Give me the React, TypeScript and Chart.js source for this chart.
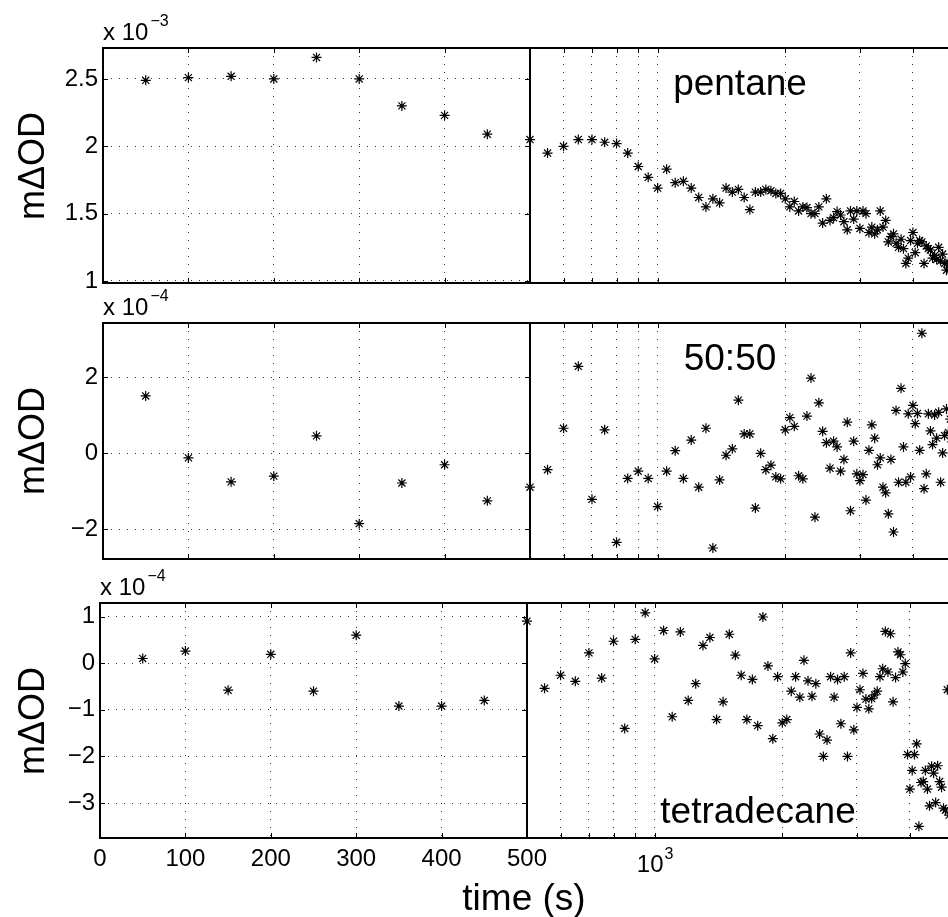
import React, { useEffect, useRef } from 'react';
import { Chart, registerables } from 'chart.js';

Chart.register(...registerables);

// ---------------- data ----------------
const times = [
  50, 100, 150, 200, 250, 300, 350, 400, 450, 500,
  550, 600, 650, 700, 750, 800, 850, 900, 950, 1000,
  1050, 1100, 1150, 1200, 1250, 1300, 1350, 1400, 1450, 1500,
  1550, 1600, 1650, 1700, 1750, 1800, 1850, 1900, 1950, 2000,
  2050, 2100, 2150, 2200, 2250, 2300, 2350, 2400, 2450, 2500,
  2550, 2600, 2650, 2700, 2750, 2800, 2850, 2900, 2950, 3000,
  3050, 3100, 3150, 3200, 3250, 3300, 3350, 3400, 3450, 3500,
  3550, 3600, 3650, 3700, 3750, 3800, 3850, 3900, 3950, 4000,
  4050, 4100, 4150, 4200, 4250, 4300, 4350, 4400, 4450, 4500,
  4550, 4600, 4650, 4700, 4750, 4800, 4850, 4900, 4950,
];

// pentane, in units of 1e-3
const pentane = [
  2.49, 2.51, 2.52, 2.50, 2.66, 2.50, 2.30, 2.23, 2.09, 2.05,
  1.95, 2.00, 2.05, 2.05, 2.03, 2.02, 1.95, 1.85, 1.77, 1.69,
  1.83, 1.73, 1.74, 1.69, 1.62, 1.55, 1.61, 1.58, 1.69, 1.66,
  1.68, 1.62, 1.53, 1.66, 1.66, 1.68, 1.67, 1.65, 1.65, 1.61,
  1.55, 1.59, 1.52, 1.55, 1.545, 1.50, 1.50, 1.55, 1.43, 1.61,
  1.45, 1.47, 1.515, 1.49, 1.44, 1.38, 1.52, 1.46, 1.52, 1.39,
  1.52, 1.50, 1.36, 1.40, 1.35, 1.38, 1.52, 1.40, 1.45, 1.29,
  1.33, 1.35, 1.28, 1.25, 1.31, 1.24, 1.13, 1.17, 1.30, 1.36,
  1.21, 1.28, 1.30, 1.29, 1.13, 1.26, 1.24, 1.23, 1.17, 1.19,
  1.16, 1.25, 1.15, 1.20, 1.13, 1.08, 1.14, 1.10, 1.06,
];

// 50:50 mixture, in units of 1e-4
const mixture = [
  1.51, -0.12, -0.75, -0.60, 0.46, -1.85, -0.78, -0.30, -1.25, -0.89,
  -0.43, 0.66, 2.29, -1.21, 0.62, -2.34, -0.66, -0.47, -0.66, -1.40,
  -0.47, 0.07, -0.66, 0.35, -0.89, 0.66, -2.49, -0.70, -0.05, 0.12,
  1.40, 0.51, 0.51, -1.44, 0.00, -0.43, -0.31, -0.62, -0.67, 0.62,
  0.94, 0.71, -0.59, -0.67, 0.98, 1.98, -1.68, 1.33, 0.58, 0.28,
  -0.39, 0.32, 0.17, -0.47, -0.16, 0.82, -1.51, 0.32, -0.54, -0.72,
  -0.56, -1.23, 0.08, 0.75, 0.40, -0.30, -0.12, -0.89, -1.04, -1.59,
  -0.16, -2.07, 1.13, -0.76, 1.71, 0.17, -0.76, 1.04, -0.62, 1.26,
  0.78, 1.05, 0.08, 3.16, -0.93, -0.54, 1.04, 0.59, 0.23, 1.01,
  0.40, 1.08, -0.76, 0.01, 0.47, 1.17, 0.55, 0.90, 0.30,
];

// tetradecane, in units of 1e-4
const tetradecane = [
  0.10, 0.26, -0.58, 0.19, -0.60, 0.60, -0.92, -0.92, -0.80, 0.90,
  -0.54, -0.26, -0.39, 0.22, -0.32, 0.47, -1.40, 0.51, 1.08, 0.09,
  0.70, -1.15, 0.67, -0.80, -0.44, 0.38, 0.55, -1.21, -0.83, 0.62,
  0.17, -0.26, -1.21, -0.35, -1.34, 0.99, -0.06, -1.62, -0.29, -1.28,
  -1.21, -0.60, -0.29, -0.73, 0.06, -0.38, -0.71, -0.44, -1.52, -2.00,
  -1.65, -0.29, -0.73, -0.35, -1.30, -0.29, -2.00, 0.22, -1.43, -0.95,
  -0.57, -0.22, -0.77, -0.98, -0.76, -0.68, -0.60, -0.29, -0.12, 0.68,
  -0.19, 0.63, -0.83, -0.31, 0.24, 0.18, -0.19, -0.01, -1.96, -2.70,
  -2.30, -1.96, -1.73, -3.50, -2.56, -2.54, -2.30, -2.70, -3.06, -2.21,
  -2.36, -2.99, -2.20, -2.54, -2.66, -3.11, -3.15, -0.57, -3.26,
];

const linearXTicks = [0, 100, 200, 300, 400, 500];
const logXTicks = [500, 600, 700, 800, 900, 1000, 2000, 3000, 4000, 5000];
// power-of-ten tick labels on the log axis: base and superscript exponent
const logXLabelBase: Record<number, string> = { 1000: '10' };
const logXLabelExp: Record<number, string> = { 1000: '3' };
const pentaneYTicks = [1, 1.5, 2, 2.5];
const mixtureYTicks = [-2, 0, 2];
const tetradecaneYTicks = [-3, -2, -1, 0, 1];

const seriesNames = ['pentane', '50:50', 'tetradecane'];
const exponents = ['−3', '−4', '−4'];
const yLabel = 'mΔOD';
const xLabel = 'time (s)';

// ---------------- layout / style ----------------
const FONT = '"Liberation Sans", Arial, Helvetica, sans-serif';
const GRID_COLOR = '#333333';
const TICK_SIZE = 24;
const TICK_FONT = { family: FONT, size: TICK_SIZE };

type Row = {
  values: number[];
  yMin: number;
  yMax: number;
  yTicks: number[];
  top: number;
  bottom: number;
  x0: number;
  xb: number;
  showX: boolean;
  titleX: number;
  titleBaseline: number;
};

const ROWS: Row[] = [
  { values: pentane, yMin: 0.985, yMax: 2.73, yTicks: pentaneYTicks, top: 48, bottom: 283, x0: 103, xb: 530, showX: false, titleX: 740, titleBaseline: 95.5 },
  { values: mixture, yMin: -2.78, yMax: 3.43, yTicks: mixtureYTicks, top: 323, bottom: 559, x0: 103, xb: 530, showX: false, titleX: 730, titleBaseline: 370 },
  { values: tetradecane, yMin: -3.75, yMax: 1.29, yTicks: tetradecaneYTicks, top: 603, bottom: 838, x0: 100, xb: 527, showX: true, titleX: 758, titleBaseline: 823 },
];

const DECADE = 424;
const PAD_TOP = 12;
const X_AXIS_H = 44;
const PAD_BOTTOM = 4;
const LEFT_CANVAS_W = 570;
const RIGHT_CANVAS_END = 962;

const framePlugin = {
  id: 'frame',
  afterDraw(chart: any, _args: any, opts: any) {
    const { ctx, chartArea: a, scales } = chart;
    ctx.save();
    ctx.strokeStyle = '#000';
    ctx.lineWidth = 1;
    ctx.beginPath();
    const xs = scales.x;
    xs.ticks.forEach((t: any) => {
      const px = Math.round(xs.getPixelForValue(t.value)) + 0.5;
      ctx.moveTo(px, a.bottom);
      ctx.lineTo(px, a.bottom - 5);
      ctx.moveTo(px, a.top);
      ctx.lineTo(px, a.top + 5);
    });
    if (opts && opts.yTicks) {
      const ys = scales.y;
      ys.ticks.forEach((t: any) => {
        const py = Math.round(ys.getPixelForValue(t.value)) + 0.5;
        ctx.moveTo(a.left, py);
        ctx.lineTo(a.left + 5, py);
        ctx.moveTo(a.right, py);
        ctx.lineTo(a.right - 5, py);
      });
    }
    ctx.stroke();
    ctx.lineWidth = 2;
    ctx.strokeRect(a.left, a.top, a.right - a.left, a.bottom - a.top);

    // power-of-ten labels (base + raised exponent) at their tick positions
    if (opts && opts.powerLabels) {
      ctx.fillStyle = '#000';
      ctx.textBaseline = 'alphabetic';
      ctx.textAlign = 'left';
      xs.ticks.forEach((t: any) => {
        const base = logXLabelBase[t.value];
        const exp = logXLabelExp[t.value];
        if (!base) return;
        const px = xs.getPixelForValue(t.value);
        ctx.font = `${TICK_SIZE}px ${FONT}`;
        const wb = ctx.measureText(base).width;
        ctx.font = `16px ${FONT}`;
        const we = ctx.measureText(exp).width;
        const x0 = px - (wb + we) / 2;
        const baseY = a.bottom + 34;
        ctx.font = `${TICK_SIZE}px ${FONT}`;
        ctx.fillText(base, x0, baseY);
        ctx.font = `16px ${FONT}`;
        ctx.fillText(exp, x0 + wb + 1, baseY - 13);
      });
    }
    ctx.restore();
  },
};

function dataset(points: { x: number; y: number }[]) {
  return {
    data: points,
    pointStyle: 'star' as const,
    pointRadius: 5,
    pointHoverRadius: 5,
    borderColor: '#000',
    backgroundColor: '#000',
    pointBorderWidth: 1.2,
    borderWidth: 1.2,
    showLine: false,
    clip: 0,
  };
}

function xAxisFit(s: any) {
  s.height = X_AXIS_H;
  s.paddingLeft = 0;
  s.paddingRight = 0;
}

function makeLeft(canvas: HTMLCanvasElement, row: Row) {
  const pts = times
    .map((t, i) => ({ x: t, y: row.values[i] }))
    .filter((p) => p.x <= 500);
  return new Chart(canvas, {
    type: 'scatter',
    data: { datasets: [dataset(pts)] },
    options: {
      animation: false,
      responsive: false,
      devicePixelRatio: 1,
      events: [],
      layout: { padding: { left: 0, top: PAD_TOP, right: LEFT_CANVAS_W - row.xb, bottom: PAD_BOTTOM } },
      plugins: { legend: { display: false }, tooltip: { enabled: false }, frame: { yTicks: true } } as any,
      scales: {
        x: {
          type: 'linear',
          position: 'bottom',
          min: 0,
          max: 500,
          bounds: 'data',
          afterBuildTicks: (s: any) => {
            s.ticks = linearXTicks.map((v) => ({ value: v }));
          },
          afterFit: xAxisFit,
          grid: { color: GRID_COLOR, lineWidth: 1, drawTicks: false },
          border: { display: false, dash: [1, 7] },
          ticks: {
            display: row.showX,
            autoSkip: false,
            maxRotation: 0,
            minRotation: 0,
            padding: 7,
            color: '#000',
            font: TICK_FONT,
            callback: (v: any) => String(v),
          },
        },
        y: {
          type: 'linear',
          min: row.yMin,
          max: row.yMax,
          bounds: 'data',
          afterBuildTicks: (s: any) => {
            s.ticks = row.yTicks.map((v) => ({ value: v }));
          },
          afterFit: (s: any) => {
            s.width = row.x0;
            s.paddingTop = 0;
            s.paddingBottom = 0;
          },
          grid: { color: GRID_COLOR, lineWidth: 1, drawTicks: false },
          border: { display: false, dash: [1, 7] },
          ticks: {
            autoSkip: false,
            padding: 5,
            color: '#000',
            font: TICK_FONT,
            callback: (v: any) => String(v).replace('-', '−'),
          },
        },
      },
    } as any,
    plugins: [framePlugin],
  });
}

function makeRight(canvas: HTMLCanvasElement, row: Row, canvasLeft: number) {
  const pts = times
    .map((t, i) => ({ x: t, y: row.values[i] }))
    .filter((p) => p.x >= 500);
  const rightEdge = row.xb + DECADE;
  return new Chart(canvas, {
    type: 'scatter',
    data: { datasets: [dataset(pts)] },
    options: {
      animation: false,
      responsive: false,
      devicePixelRatio: 1,
      events: [],
      layout: {
        padding: { left: row.xb - canvasLeft, top: PAD_TOP, right: RIGHT_CANVAS_END - rightEdge, bottom: PAD_BOTTOM },
      },
      plugins: {
        legend: { display: false },
        tooltip: { enabled: false },
        frame: { yTicks: false, powerLabels: row.showX },
      } as any,
      scales: {
        x: {
          type: 'logarithmic',
          position: 'bottom',
          min: 500,
          max: 5000,
          bounds: 'data',
          afterBuildTicks: (s: any) => {
            s.ticks = logXTicks.map((v) => ({ value: v }));
          },
          afterFit: xAxisFit,
          grid: { color: GRID_COLOR, lineWidth: 1, drawTicks: false },
          border: { display: false, dash: [1, 7] },
          ticks: { display: false },
        },
        y: {
          type: 'linear',
          display: false,
          min: row.yMin,
          max: row.yMax,
          bounds: 'data',
        },
      },
    } as any,
    plugins: [framePlugin],
  });
}

function Panel({ row, side }: { row: Row; side: 'left' | 'right' }) {
  const ref = useRef<HTMLCanvasElement>(null);
  const canvasLeft = side === 'left' ? 0 : row.xb - 20;
  const width = side === 'left' ? LEFT_CANVAS_W : RIGHT_CANVAS_END - canvasLeft;
  const height = row.bottom - row.top + PAD_TOP + X_AXIS_H + PAD_BOTTOM;
  useEffect(() => {
    if (!ref.current) return;
    const chart = side === 'left' ? makeLeft(ref.current, row) : makeRight(ref.current, row, canvasLeft);
    return () => chart.destroy();
  }, [row, side, canvasLeft]);
  return (
    <canvas
      ref={ref}
      width={width}
      height={height}
      style={{ position: 'absolute', left: canvasLeft, top: row.top - PAD_TOP, width, height }}
    />
  );
}

const textBase: React.CSSProperties = {
  position: 'absolute',
  fontFamily: FONT,
  color: '#000',
  whiteSpace: 'nowrap',
};

export default function App() {
  const BIG = 37;
  const SMALL = 24;
  return (
    <div
      style={{
        position: 'absolute',
        left: 0,
        top: 0,
        width: 948,
        height: 917,
        overflow: 'hidden',
        background: '#fff',
      }}
    >
      {ROWS.map((row, i) => (
        <React.Fragment key={i}>
          <Panel row={row} side="left" />
          <Panel row={row} side="right" />
          {/* exponent label */}
          <div
            style={{
              ...textBase,
              left: row.x0,
              top: row.top - 8 - 0.8465 * SMALL,
              fontSize: SMALL,
              lineHeight: `${SMALL}px`,
            }}
          >
            x 10
            <span style={{ fontSize: 16, position: 'relative', top: -14, marginLeft: 2 }}>{exponents[i]}</span>
          </div>
          {/* y label */}
          <div
            style={{
              ...textBase,
              left: 32 - 100,
              top: (row.top + row.bottom) / 2 - 18,
              width: 200,
              height: 36,
              fontSize: 36,
              lineHeight: '36px',
              textAlign: 'center',
              transform: 'rotate(-90deg)',
            }}
          >
            {yLabel}
          </div>
          {/* series title */}
          <div
            style={{
              ...textBase,
              left: row.titleX - 200,
              width: 400,
              top: row.titleBaseline - 0.8465 * BIG,
              fontSize: BIG,
              lineHeight: `${BIG}px`,
              textAlign: 'center',
            }}
          >
            {seriesNames[i]}
          </div>
        </React.Fragment>
      ))}
      <div
        style={{
          ...textBase,
          left: 524 - 200,
          width: 400,
          top: 910 - 0.8465 * BIG,
          fontSize: BIG,
          lineHeight: `${BIG}px`,
          textAlign: 'center',
        }}
      >
        {xLabel}
      </div>
    </div>
  );
}
